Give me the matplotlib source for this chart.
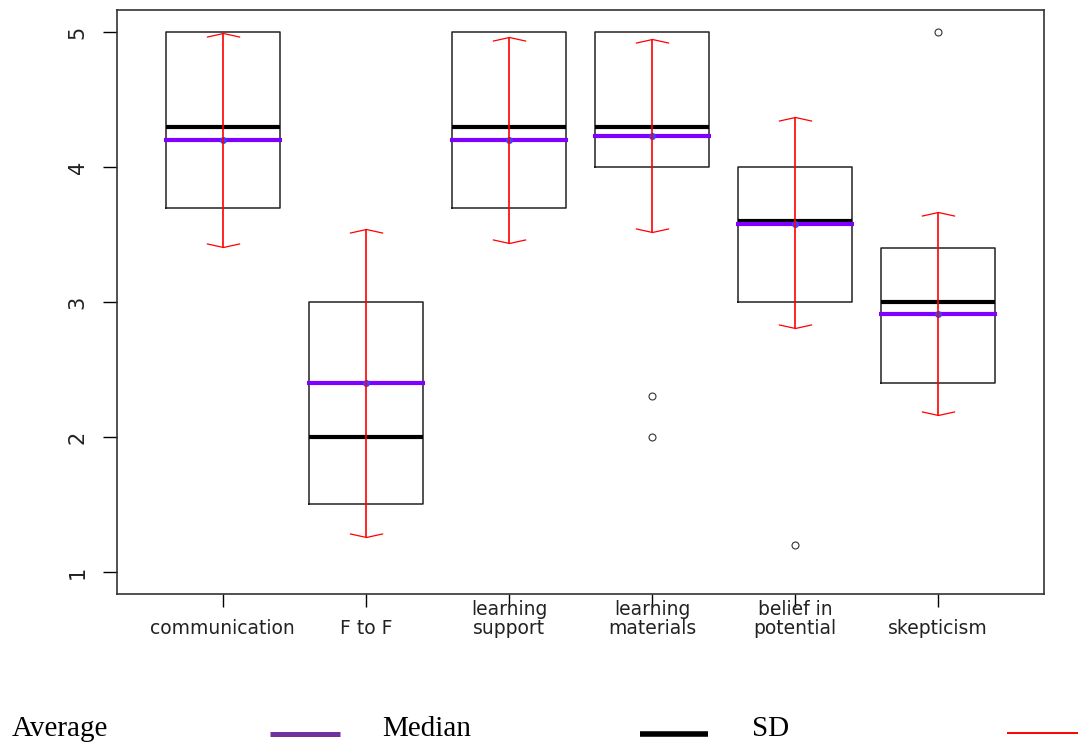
import numpy as np
import matplotlib
matplotlib.use("Agg")
import matplotlib.pyplot as plt
from matplotlib.path import Path
from matplotlib.lines import Line2D

# values
categories = ["\ncommunication", "\nF to F", "learning\nsupport",
              "learning\nmaterials", "belief in\npotential", "\nskepticism"]
q1 = [3.7, 1.5, 3.7, 4.0, 3.0, 2.4]
median = [4.3, 2.0, 4.3, 4.3, 3.6, 3.0]
q3 = [5.0, 3.0, 5.0, 5.0, 4.0, 3.4]
mean = [4.2, 2.4, 4.2, 4.23, 3.58, 2.91]
sd_low = [3.41, 1.26, 3.44, 3.52, 2.81, 2.16]
sd_high = [4.99, 3.54, 4.96, 4.95, 4.37, 3.67]
outliers = [[], [], [], [2.3, 2.0], [1.2], [5.0]]

PURPLE = "#8000ff"
LEGEND_PURPLE = "#7030a0"
RED = "#ff0000"

fig = plt.figure(figsize=(10.78, 7.44), dpi=100)
ax = fig.add_axes([117 / 1078, 150 / 744, 927 / 1078, 584 / 744])

pos = np.arange(1, len(categories) + 1)
stats = []
for i in range(len(categories)):
    stats.append(dict(q1=q1[i], med=median[i], q3=q3[i],
                      whislo=q1[i], whishi=q3[i], fliers=outliers[i]))

ax.bxp(stats, positions=pos, widths=0.8, showcaps=False,
       boxprops=dict(color="#222222", linewidth=1.1),
       medianprops=dict(color="black", linewidth=3.0, solid_capstyle="butt"),
       whiskerprops=dict(linewidth=0),
       flierprops=dict(marker="o", markersize=5, markerfacecolor="none",
                       markeredgecolor="#333333", markeredgewidth=0.8))

# mean lines
ax.hlines(mean, pos - 0.41, pos + 0.41, color=PURPLE, linewidth=3.0, zorder=4)
ax.plot(pos, mean, "o", color="#4040ff", markersize=4, zorder=5)

# SD bars with chevron caps
ax.vlines(pos, sd_low, sd_high, color=RED, linewidth=1.2, zorder=6)
cap_up = Path([(-1, -0.22), (0, 0), (1, -0.22)], [Path.MOVETO, Path.LINETO, Path.LINETO])
cap_down = Path([(-1, 0.22), (0, 0), (1, 0.22)], [Path.MOVETO, Path.LINETO, Path.LINETO])
ax.plot(pos, sd_high, linestyle="none", marker=cap_up, markersize=24,
        markerfacecolor="none", markeredgecolor=RED, markeredgewidth=0.9, zorder=6)
ax.plot(pos, sd_low, linestyle="none", marker=cap_down, markersize=24,
        markerfacecolor="none", markeredgecolor=RED, markeredgewidth=0.9, zorder=6)

ax.set_xlim(0.26, 6.74)
ax.set_ylim(0.837, 5.163)
ax.set_xticks(pos)
ax.set_xticklabels(categories, fontsize=13.5, color="#222222", linespacing=1.05)
ax.set_yticks([1, 2, 3, 4, 5])
ax.set_yticklabels(["1", "2", "3", "4", "5"], rotation=90, va="center",
                   fontsize=15, color="#222222")
ax.tick_params(axis="x", length=9, width=1.0, pad=-5)
ax.tick_params(axis="y", length=10, width=1.0, pad=11)
for s in ax.spines.values():
    s.set_linewidth(1.2)
    s.set_color("#333333")

# legend strip along the bottom
serif = "Liberation Serif"
fig.text(12 / 1078, 8 / 744, "Average", fontsize=21, family=serif, va="baseline")
fig.text(382 / 1078, 8 / 744, "Median", fontsize=21, family=serif, va="baseline")
fig.text(752 / 1078, 8 / 744, "SD", fontsize=21, family=serif, va="baseline")
y_leg = 10.5 / 744
fig.add_artist(Line2D([270 / 1078, 340 / 1078], [y_leg, y_leg], color=LEGEND_PURPLE,
                      linewidth=3.6, solid_capstyle="butt"))
fig.add_artist(Line2D([640 / 1078, 708 / 1078], [y_leg, y_leg], color="black",
                      linewidth=4.0, solid_capstyle="butt"))
fig.add_artist(Line2D([1007 / 1078, 1078 / 1078], [y_leg + 1 / 744, y_leg + 1 / 744],
                      color=RED, linewidth=1.4, solid_capstyle="butt"))

fig.savefig("out.png", dpi=100)
